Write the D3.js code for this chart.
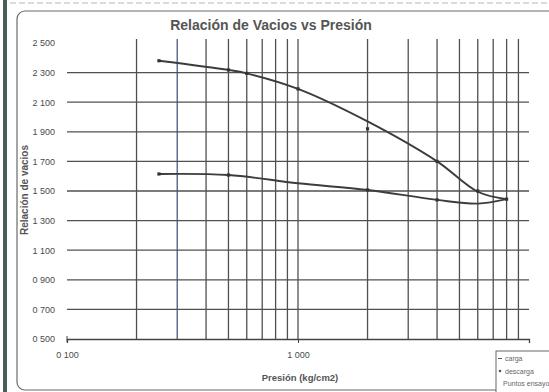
<!DOCTYPE html>
<html>
<head>
<meta charset="utf-8">
<script src="https://cdn.jsdelivr.net/npm/d3@7"></script>
<style>
  html, body { margin: 0; padding: 0; background: #fff; }
  svg { display: block; }
</style>
</head>
<body>
<svg id="chart" width="549" height="392"></svg>
<script>
// Consolidation test: void ratio vs. pressure (log scale)
const cargaP    = [0.25, 0.5, 0.6, 1, 2, 4, 6, 8];
const cargaE    = [2.38, 2.318, 2.295, 2.19, 1.97, 1.70, 1.495, 1.445];
const descargaP = [8, 6, 4, 2, 1, 0.5, 0.25];
const descargaE = [1.445, 1.415, 1.44, 1.507, 1.552, 1.608, 1.615];
const ensayoP   = [0.25, 0.5, 0.6, 1, 2, 4, 6, 8, 0.25, 0.5, 2, 4];
const ensayoE   = [2.38, 2.318, 2.295, 2.19, 1.92, 1.70, 1.50, 1.445, 1.615, 1.608, 1.507, 1.44];

const xTickValues = [0.1, 1];
const xTickLabels = ["0 100", "1 000"];
const yTickValues = [0.5, 0.7, 0.9, 1.1, 1.3, 1.5, 1.7, 1.9, 2.1, 2.3, 2.5];
const yTickLabels = ["0 500", "0 700", "0 900", "1 100", "1 300", "1 500",
                     "1 700", "1 900", "2 100", "2 300", "2 500"];
const legendLabels = ["carga", "descarga", "Puntos ensayo"];

const svg = d3.select("#chart");
const font = "'Liberation Sans', Arial, sans-serif";
const ink = "#4a4a4a";

const x = d3.scaleLog().domain([0.1, 10]).range([67, 529]);
const y = d3.scaleLinear().domain([0.5, 2.5]).range([339, 43]);

// page edge strip and outer frame
svg.append("rect").attr("x", 3).attr("y", 0).attr("width", 4).attr("height", 392).attr("fill", "#4c5d53");
svg.append("line").attr("x1", 10).attr("x2", 549).attr("y1", 3).attr("y2", 3)
  .attr("stroke", "#b8b8b8").attr("stroke-width", 1).attr("stroke-dasharray", "6,3");
svg.append("rect").attr("x", 17).attr("y", 11).attr("width", 560).attr("height", 379)
  .attr("rx", 8).attr("fill", "none").attr("stroke", "#6a6a6a").attr("stroke-width", 1.2);

// vertical grid at every value in each decade
const vGrid = [];
[0.1, 1].forEach(d => { for (let k = 1; k <= 9; k++) vGrid.push(+(d * k).toFixed(2)); });
const g = svg.append("g");
g.selectAll("line.v").data(vGrid.filter(v => v > 0.1)).enter().append("line")
  .attr("x1", d => x(d)).attr("x2", d => x(d))
  .attr("y1", 39).attr("y2", y(0.5))
  .attr("stroke", d => d === 0.3 ? "#4b5a80" : "#505050")
  .attr("stroke-width", 1.3);

// horizontal grid
g.selectAll("line.h").data(yTickValues.filter(v => v > 0.5 && v < 2.5)).enter().append("line")
  .attr("x1", x(0.1)).attr("x2", x(10))
  .attr("y1", d => y(d)).attr("y2", d => y(d))
  .attr("stroke", "#505050").attr("stroke-width", 1.3);

// x axis
const xAxis = d3.axisBottom(x).tickValues(xTickValues)
  .tickFormat((d, i) => xTickLabels[i]).tickSize(4).tickSizeOuter(4);
const xa = svg.append("g").attr("transform", `translate(0,${y(0.5)})`).call(xAxis);
xa.select(".domain").attr("stroke", "#444").attr("stroke-width", 1.3);
xa.selectAll(".tick line").attr("stroke", "#444");
xa.selectAll("text").attr("font-family", font).attr("font-size", 9).attr("fill", ink).attr("dy", "1.3em");

// y axis labels (no axis line drawn)
const yAxis = d3.axisLeft(y).tickValues(yTickValues)
  .tickFormat((d, i) => yTickLabels[i]).tickSize(0).tickPadding(12);
const ya = svg.append("g").attr("transform", `translate(${x(0.1)},0)`).call(yAxis);
ya.select(".domain").remove();
ya.selectAll("text").attr("font-family", font).attr("font-size", 9).attr("fill", ink);
svg.append("line").attr("x1", x(0.1)).attr("x2", x(0.1)).attr("y1", y(0.5) - 3).attr("y2", y(0.5) + 3)
  .attr("stroke", "#444");

// curves
const line = d3.line().x(d => x(d[0])).y(d => y(d[1])).curve(d3.curveCatmullRom.alpha(0.5));
const carga = cargaP.map((p, i) => [p, cargaE[i]]);
const descarga = descargaP.map((p, i) => [p, descargaE[i]]);
[carga, descarga].forEach(s => {
  svg.append("path").datum(s).attr("d", line)
    .attr("fill", "none").attr("stroke", "#3c3c3c").attr("stroke-width", 1.9);
});

// test points
svg.selectAll("rect.pt").data(ensayoP.map((p, i) => [p, ensayoE[i]])).enter().append("rect")
  .attr("x", d => x(d[0]) - 1.6).attr("y", d => y(d[1]) - 1.6)
  .attr("width", 3.2).attr("height", 3.2).attr("fill", "#333");

// titles
svg.append("text").attr("x", 271).attr("y", 30).attr("text-anchor", "middle")
  .attr("font-family", font).attr("font-weight", "bold").attr("font-size", 14)
  .attr("fill", "#555").text("Relación de Vacios vs Presión");
svg.append("text").attr("x", 300).attr("y", 381).attr("text-anchor", "middle")
  .attr("font-family", font).attr("font-weight", "bold").attr("font-size", 9.5)
  .attr("fill", "#555").text("Presión (kg/cm2)");
svg.append("text").attr("transform", "translate(28,190) rotate(-90)").attr("text-anchor", "middle")
  .attr("font-family", font).attr("font-weight", "bold").attr("font-size", 10)
  .attr("fill", "#555").text("Relación de vacios");

// legend
const lg = svg.append("g");
lg.append("rect").attr("x", 496).attr("y", 351).attr("width", 70).attr("height", 45)
  .attr("fill", "#fff").attr("stroke", "#666").attr("stroke-width", 1);
legendLabels.forEach((t, i) => {
  const ty = 361 + i * 12.5;
  if (i === 0) lg.append("line").attr("x1", 498).attr("x2", 502).attr("y1", ty - 2.5).attr("y2", ty - 2.5).attr("stroke", "#555");
  if (i === 1) lg.append("circle").attr("cx", 500).attr("cy", ty - 2.5).attr("r", 1.3).attr("fill", "#555");
  lg.append("text").attr("x", i === 2 ? 503 : 505).attr("y", ty)
    .attr("font-family", font).attr("font-size", 7).attr("fill", "#666").text(t);
});
</script>
</body>
</html>
